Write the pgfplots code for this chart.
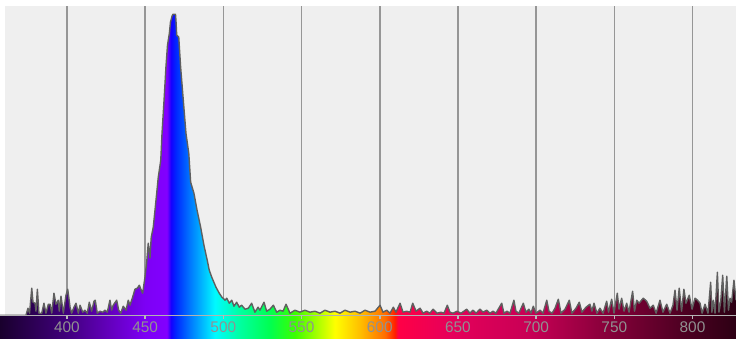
\documentclass[border=0pt]{standalone}
\usepackage{fontspec}
\setmainfont{Liberation Sans}
\usepackage{pgfplots}
\usepackage{pgfplotstable}
\pgfplotsset{compat=1.18}

\definecolor{bgc}{RGB}{239,239,239}
\definecolor{gridc}{RGB}{150,150,150}
\definecolor{linec}{RGB}{95,95,95}
\definecolor{labc}{RGB}{145,145,145}

\definecolor{s00}{RGB}{25,0,45}
\definecolor{s01}{RGB}{65,0,125}
\definecolor{s02}{RGB}{100,0,190}
\definecolor{s03}{RGB}{125,0,245}
\definecolor{s04}{RGB}{130,0,255}
\definecolor{s05}{RGB}{20,0,255}
\definecolor{s06}{RGB}{0,40,255}
\definecolor{s07}{RGB}{0,120,255}
\definecolor{s08}{RGB}{0,250,255}
\definecolor{s09}{RGB}{0,255,160}
\definecolor{s10}{RGB}{0,255,80}
\definecolor{s11}{RGB}{60,255,0}
\definecolor{s12}{RGB}{255,255,0}
\definecolor{s13}{RGB}{255,190,0}
\definecolor{s14}{RGB}{255,110,0}
\definecolor{s15}{RGB}{255,30,0}
\definecolor{s16}{RGB}{255,0,70}
\definecolor{s17}{RGB}{230,0,90}
\definecolor{s18}{RGB}{200,0,85}
\definecolor{s19}{RGB}{140,0,60}
\definecolor{s20}{RGB}{80,0,35}
\definecolor{s21}{RGB}{45,0,20}

\pgfdeclarehorizontalshading{spectrum}{100bp}{%
color(0bp)=(s00); color(25bp)=(s00); color(29.55bp)=(s01); color(32.47bp)=(s02);
color(34.85bp)=(s03); color(36.34bp)=(s04); color(36.62bp)=(s05); color(36.96bp)=(s06);
color(37.91bp)=(s07); color(39.60bp)=(s08); color(41.30bp)=(s09); color(43.34bp)=(s10);
color(45.04bp)=(s11); color(47.76bp)=(s12); color(49.46bp)=(s13); color(51.15bp)=(s14);
color(51.83bp)=(s15); color(52.04bp)=(s16); color(55.57bp)=(s17); color(61.0bp)=(s18);
color(65.76bp)=(s19); color(71.19bp)=(s20); color(75bp)=(s21); color(100bp)=(s21)}

\pgfplotstableread{
lambda h
357.2 0
373.8 0
375.1 7
376.1 2
377.5 27
378.3 13
379.6 12
380.2 4
381.1 26
382.1 2
383.9 2
385.3 12
386.6 2
388.1 11
389.2 11
390.3 2
391.7 22
393.0 11
394.5 15
395.1 4
396.2 19
397.7 2
399.4 20
400.5 26
402.0 8
403.0 2
404.5 8
405.8 12
407.3 2
408.4 10
410.1 3
411.5 5
413.0 2
414.3 13
415.8 4
417.3 14
418.1 15
419.4 2
421.1 4
422.9 3
424.3 5
425.8 3
427.5 15
428.6 5
429.6 10
431.8 15
433.1 5
434.4 2
436.0 9
437.8 5
439.2 15
440.3 10
442.0 18
443.5 26
445.0 27
446.3 30
447.0 27
448.4 22
449.9 38
451.0 53
452.0 72
453.1 57
453.9 78
455.2 88
456.3 105
457.4 122
458.4 138
460.0 155
460.8 182
462.1 215
463.3 248
464.3 270
465.5 282
466.2 293
467.2 299
467.8 301
469.4 301
469.7 295
470.2 280
471.5 278
472.7 248
474.4 215
476.1 182
477.9 162
478.2 155
479.1 133
481.2 122
483.2 105
485.5 88
487.6 70
489.7 55
491.0 45
492.6 38
493.4 35
495.3 28
497.4 22
499.1 18
501.1 15
502.2 17
503.8 12
505.4 15
506.8 9
508.5 13
510.2 8
511.7 10
513.9 6
516.0 7
518.1 12
520.2 3
522.2 8
523.4 5
526.0 13
527.7 4
529.8 6
532.0 10
534.1 3
536.2 5
538.2 4
540.1 11
542.6 2
545.8 5
549.0 3
552.2 5
555.4 3
558.6 4
561.8 2
565.0 5
568.2 3
571.4 4
574.6 2
577.8 5
581.0 3
584.2 4
587.4 2
590.6 5
593.8 3
597.0 4
600.2 10
602.1 3
604.5 5
606.6 2
608.7 8
610.4 3
613.0 12
614.9 3
617.2 4
619.4 3
621.1 12
623.2 4
625.8 7
627.7 2
630.0 4
632.1 2
634.1 6
636.6 2
639.2 3
641.1 2
643.2 10
644.9 3
646.9 2
649.4 4
652.0 2
655.6 6
657.7 2
659.6 5
661.6 2
664.1 6
666.0 3
668.4 5
670.5 2
672.4 4
674.3 2
678.0 12
679.4 2
681.4 4
683.3 2
685.8 15
687.1 4
689.0 2
691.8 12
693.5 3
695.4 6
696.7 2
698.2 9
699.9 2
702.5 5
704.4 2
706.8 15
708.2 4
710.2 2
712.1 7
714.2 16
715.9 2
718.5 6
721.2 15
722.9 2
725.5 7
727.6 13
729.3 3
731.9 8
734.4 11
735.7 4
737.0 12
738.9 2
740.8 7
742.8 2
745.1 14
746.3 3
748.3 16
749.8 2
751.9 22
753.0 6
754.7 17
756.2 4
757.9 12
759.4 3
761.7 24
762.9 4
764.3 15
765.8 12
768.5 17
770.7 14
772.8 7
774.9 10
776.7 2
779.2 15
781.1 3
783.5 11
785.6 2
787.5 10
788.8 25
790.1 5
791.5 27
793.0 4
794.5 26
795.8 12
797.9 20
799.7 6
801.6 17
803.2 15
804.8 12
806.1 2
808.0 11
809.9 2
811.6 33
812.4 3
813.3 15
814.4 2
815.9 43
816.9 3
818.0 13
819.3 40
820.4 3
821.9 39
823.0 5
824.0 17
825.0 13
826.5 35
827.8 15
}\spectab

\begin{document}
\begin{tikzpicture}
\begin{axis}[
  scale only axis,
  width=368pt, height=169pt,
  xmin=357.2, xmax=827.8,
  ymin=-23, ymax=315,
  axis line style={draw=none},
  ytick=\empty,
  xtick={400,450,500,550,600,650,700,750,800},
  xticklabels={400,450,500,550,600,650,700,750,800},
  major tick length=0pt,
  axis on top,
  xticklabel style={anchor=center, inner sep=0pt, yshift=5.5pt,
    text=labc, font=\fontsize{7.7pt}{8pt}\selectfont},
]
% plot background
\fill[bgc] (axis cs:360.4,0) rectangle (axis cs:827.8,309);
% vertical grid lines (behind the spectrum)
\pgfplotsinvokeforeach{400,450,...,800}{
  \draw[gridc, line width=0.8pt] (axis cs:#1,0) -- (axis cs:#1,309);
}
% spectrum fill
\addplot[draw=none, shade, shading=spectrum] table[x=lambda, y=h] {\spectab} \closedcycle;
% colour bar
\shade[shading=spectrum] (axis cs:357.2,-23) rectangle (axis cs:827.8,0);
% outline
\addplot[linec, line width=0.7pt, line join=round] table[x=lambda, y=h] {\spectab};
% baseline and small ticks on the colour bar
\draw[gray!60, line width=0.4pt] (axis cs:357.2,0) -- (axis cs:827.8,0);
\pgfplotsinvokeforeach{400,450,...,800}{
  \draw[gray!55, line width=0.8pt] (axis cs:#1,0) -- (axis cs:#1,-4);
}
\end{axis}
\end{tikzpicture}
\end{document}
